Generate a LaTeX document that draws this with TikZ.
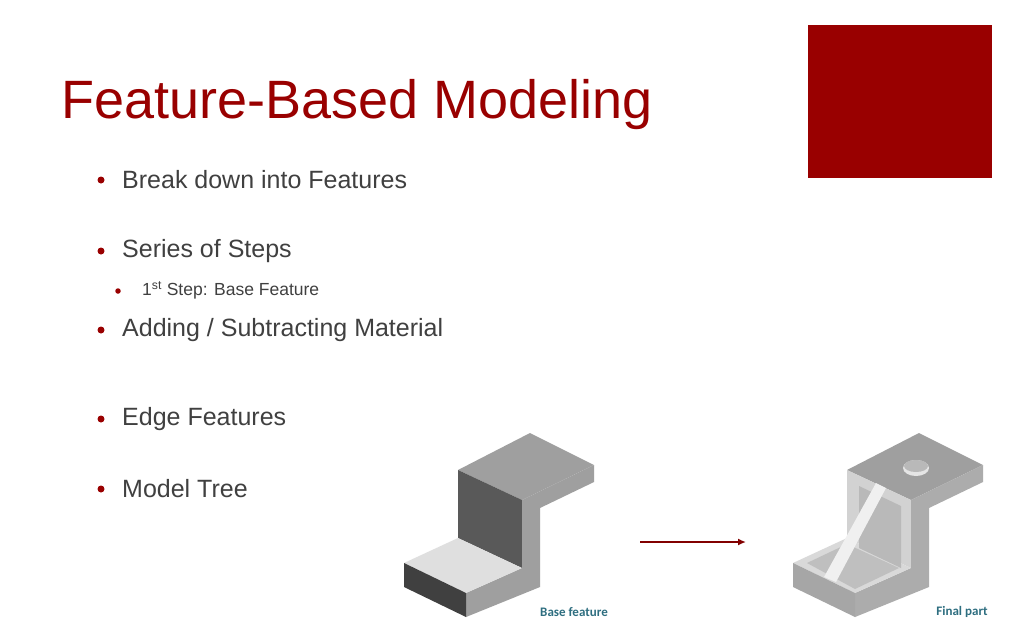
\documentclass[tikz,border=0pt]{standalone}
\usepackage{fontspec}
\usetikzlibrary{arrows.meta}
\setmainfont{Liberation Sans}
\newfontfamily\labfont{Carlito}
\definecolor{dred}{HTML}{990000}
\definecolor{txt}{HTML}{404040}
\definecolor{lab}{HTML}{2E6E80}
\begin{document}
\begin{tikzpicture}[x=1pt,y=-1pt,
  bul/.style={anchor=west,inner sep=0pt,text=txt,font=\fontsize{25}{30}\selectfont},
  sbul/.style={anchor=west,inner sep=0pt,text=txt,font=\fontsize{17.5}{20}\selectfont},
  dot/.style={circle,fill=dred,inner sep=0pt,minimum size=7pt},
  lbl/.style={anchor=center,inner sep=0pt,text=lab,font=\labfont\bfseries\fontsize{13}{15}\selectfont}]
\useasboundingbox[fill=white] (0,0) rectangle (1024,640);
\fill[dred] (808,25) rectangle (992,178);
\node[anchor=base west,inner sep=0pt,text=dred,font=\fontsize{54}{60}\selectfont] (title) at (61,118) {Feature-Based Modeling};
\node[dot] (d1) at (101,180) {}; \node[bul] (b1) at (122,180) {Break down into Features};
\node[dot] (d2) at (101,251) {}; \node[bul] (b2) at (122,251) {Series of Steps};
\node[dot,minimum size=5.5pt] (d3) at (118,291) {}; \node[sbul] (b3) at (142,290) {1\textsuperscript{st} Step: Base Feature};
\node[dot] (d4) at (101,330) {}; \node[bul] (b4) at (122,330) {Adding / Subtracting Material};
\node[dot] (d5) at (101,419) {}; \node[bul] (b5) at (122,419) {Edge Features};
\node[dot] (d6) at (101,489) {}; \node[bul] (b6) at (122,489) {Model Tree};
% base feature
\fill[gray!75] (458,470)--(530,433)--(594,465)--(522,500)--cycle;
\fill[black!65] (458,470)--(522,500)--(522,568)--(458,538)--cycle;
\fill[gray!75] (522,500)--(594,465)--(594,482)--(540,508)--(540,587)--(466,617)--(466,593)--(522,568)--cycle;
\fill[gray!25] (404,563)--(458,538)--(522,568)--(466,593)--cycle;
\fill[black!75] (404,563)--(466,593)--(466,617)--(404,587)--cycle;
\node[lbl] (l1) at (574,612) {Base feature};
% final part
\begin{scope}[xshift=389pt]
\fill[gray!75] (458,470)--(530,433)--(594,465)--(522,500)--cycle;
\fill[gray!35] (458,470)--(522,500)--(522,568)--(458,538)--cycle;
\fill[gray!65] (522,500)--(594,465)--(594,482)--(540,508)--(540,587)--(466,617)--(466,593)--(522,568)--cycle;
\fill[gray!30] (404,563)--(458,538)--(522,568)--(466,593)--cycle;
\fill[gray!70] (404,563)--(466,593)--(466,617)--(404,587)--cycle;
\fill[gray!50] (418,563)--(458,544)--(510,568)--(466,589)--cycle;
\fill[gray!55] (470,486)--(512,506)--(512,568)--(470,548)--cycle;
\fill[gray!12] (487,483)--(497,488)--(447,582)--(435,577)--cycle;
\fill[gray!20] (527,468) ellipse (13 and 8);
\fill[gray!55] (527,466) ellipse (12 and 6);
\end{scope}
\node[lbl] (l2) at (962,612) {Final part};
\coordinate (a1) at (640,542); \coordinate (a2) at (746,542);
\draw[dred!85!black,line width=2pt,-{Latex[length=8pt,width=7pt]}] (a1)--(a2);
\end{tikzpicture}
\end{document}
